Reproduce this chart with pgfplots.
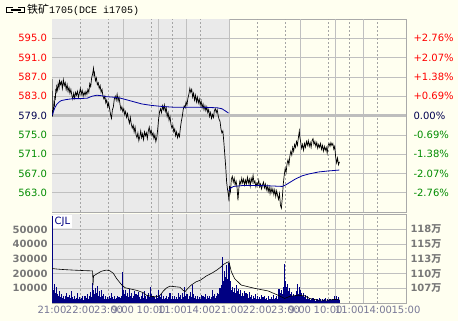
\documentclass[border=0pt]{standalone}
\usepackage{pgfplots}
\pgfplotsset{compat=1.18}
\usepackage{fontspec}
\setmainfont{DejaVu Sans}
\newfontfamily\cjk{Noto Sans CJK SC}
\newfontfamily\mono{Liberation Mono}
\definecolor{cream}{RGB}{255,255,240}
\definecolor{dgray}{RGB}{234,234,234}
\definecolor{gridc}{RGB}{192,192,192}
\definecolor{dashc}{RGB}{165,165,165}
\definecolor{midc}{RGB}{190,190,190}
\definecolor{framec}{RGB}{170,170,170}
\definecolor{pred}{RGB}{255,0,0}
\definecolor{pgreen}{RGB}{0,140,0}
\definecolor{pnavy}{RGB}{0,0,80}
\definecolor{avgc}{RGB}{0,0,160}
\definecolor{volc}{RGB}{0,0,130}
\definecolor{xlab}{RGB}{120,120,150}
\definecolor{vlab}{RGB}{120,120,120}
\newcommand{\lbl}{\fontsize{10}{12}\selectfont}
\begin{document}
\begin{tikzpicture}[x=1pt,y=1pt]
\fill[cream] (0,0) rectangle (458,321);
\useasboundingbox (0,0) rectangle (458,321);
% title
\draw[line width=1.3pt] (13,313.5) -- (6.5,313.5) -- (6.5,308.5) -- (13,308.5);
\draw[line width=1.3pt] (18,313.5) -- (24.5,313.5) -- (24.5,308.5) -- (18,308.5);
\draw[line width=1.3pt] (10.5,311) -- (21,311);
\node[anchor=west, inner sep=0pt] at (27,311) {{\cjk\fontsize{11}{12}\selectfont 铁矿}{\mono\fontsize{10}{12}\selectfont 1705(DCE i1705)}};

% ---------------- price panel
\begin{axis}[
  at={(52pt,109pt)}, anchor=south west, scale only axis,
  width=354pt, height=193pt,
  xmin=0, xmax=750, ymin=559, ymax=599,
  axis line style={draw=framec},
  xtick=\empty,
  ytick={563,567,571,575,579,583,587,591,595},
  yticklabels={\textcolor{pgreen}{563.0},\textcolor{pgreen}{567.0},\textcolor{pgreen}{571.0},\textcolor{pgreen}{575.0},\textcolor{pnavy}{579.0},\textcolor{pred}{583.0},\textcolor{pred}{587.0},\textcolor{pred}{591.0},\textcolor{pred}{595.0}},
  major tick length=0pt,
  yticklabel style={font=\lbl, xshift=-1.5pt},
  clip mode=individual,
]
\fill[dgray] (axis cs:0,559) rectangle (axis cs:375,599);
\pgfplotsinvokeforeach{563,567,571,575,583,587,591,595}{\draw[gridc] (axis cs:0,#1) -- (axis cs:750,#1);}
\pgfplotsinvokeforeach{60,120,210,255,315,435,495,585,630,690}{\draw[dashc, dash pattern=on 2pt off 2pt] (axis cs:#1,559) -- (axis cs:#1,599);}
\pgfplotsinvokeforeach{150,225,285,375,525,600,660}{\draw[gridc] (axis cs:#1,559) -- (axis cs:#1,599);}
\draw[midc, line width=3pt] (axis cs:0,579) -- (axis cs:750,579);

\addplot[black, line width=0.7pt, mark=none] table {
0 586.6
1 578.8
2 579.5
3 580.2
4 581.5
5 580.8
6 583.0
7 582.2
8 584.5
9 583.6
10 585.0
12 584.2
13 585.6
15 584.8
16 586.2
18 585.4
20 586.0
22 584.6
24 586.4
26 585.2
28 585.8
30 584.4
32 585.4
34 584.0
36 584.8
38 583.6
40 584.4
42 583.2
44 582.4
46 583.6
48 582.6
50 583.8
52 583.2
54 584.0
56 582.8
58 583.6
60 584.6
62 583.4
64 584.2
66 583.0
68 583.8
70 583.2
72 584.0
74 583.4
76 584.4
78 583.8
80 585.6
82 585.0
84 586.8
86 587.6
88 588.8
89 587.4
90 587.8
92 586.2
94 586.8
96 585.4
98 585.8
100 584.6
102 585.2
104 583.8
106 584.4
108 583.0
110 582.4
112 583.0
114 581.6
116 582.2
118 580.8
120 581.6
122 580.4
124 579.2
126 578.4
128 580.2
130 580.8
132 582.4
134 583.0
136 582.2
138 583.4
140 582.0
142 582.8
144 581.4
146 580.2
148 580.8
150 579.8
152 580.4
154 579.2
156 579.8
158 578.6
160 579.4
162 578.2
164 577.4
166 578.6
168 577.2
170 576.4
172 577.0
174 575.6
176 576.6
178 575.0
180 574.4
182 575.4
184 573.8
186 574.6
188 575.8
190 574.4
192 575.2
194 574.0
196 575.6
198 574.8
200 575.4
202 574.2
204 575.8
206 576.6
208 575.2
210 576.0
212 574.8
214 575.4
216 574.2
218 575.0
220 573.6
222 574.4
224 576.2
226 578.4
228 579.8
230 580.4
232 579.6
234 581.0
236 580.2
238 581.2
240 579.8
242 580.6
244 578.8
246 579.6
248 578.0
250 578.8
252 577.2
254 576.4
256 577.0
258 575.6
260 576.2
262 574.8
264 575.6
266 574.4
268 575.2
270 574.6
272 576.4
274 577.8
276 578.8
278 580.2
280 581.0
282 580.6
284 581.8
286 581.2
288 582.6
290 583.4
292 584.6
294 583.8
296 584.4
298 582.8
300 583.6
302 582.2
304 583.2
306 581.8
308 582.8
310 581.6
312 582.4
314 581.2
316 582.0
318 580.6
320 581.4
322 580.2
324 581.0
326 580.0
328 580.8
330 579.6
332 580.2
334 578.8
336 579.6
338 578.4
340 579.2
342 578.6
344 580.0
346 580.4
348 579.6
350 580.2
352 579.0
354 578.2
356 577.8
358 576.2
360 575.4
362 575.8
364 573.6
366 571.0
368 568.4
370 565.2
372 563.6
374 562.4
375 561.2
376 564.4
378 563.2
380 565.8
382 566.4
384 565.2
386 566.0
388 564.6
390 565.4
392 564.2
394 561.4
396 564.0
398 565.4
400 564.8
402 566.0
404 565.0
406 565.8
408 564.6
410 565.6
412 564.8
414 566.2
416 565.0
418 565.8
420 564.4
422 566.0
424 565.2
426 566.6
428 565.0
430 565.4
432 564.2
434 565.0
436 564.6
438 565.6
440 564.2
442 564.8
444 563.8
446 564.6
448 565.2
450 564.0
452 564.8
454 563.6
456 564.4
458 563.2
460 564.2
462 562.8
464 564.0
466 563.0
468 563.8
470 562.6
472 563.6
474 562.2
476 563.4
478 562.4
480 561.6
482 562.8
484 560.4
486 559.8
488 562.0
490 564.8
492 566.6
494 568.0
496 567.2
498 569.0
500 569.8
502 568.8
504 570.6
506 571.6
508 570.8
510 572.4
512 571.6
514 573.0
516 572.4
518 573.6
520 572.8
522 574.4
524 575.8
525 574.6
527 573.4
529 572.2
531 573.0
533 571.8
535 573.2
537 572.4
539 573.6
541 572.8
543 573.8
545 572.6
547 573.4
549 572.4
551 573.8
553 574.2
555 573.0
557 573.6
559 572.6
561 573.4
563 572.2
565 573.0
567 572.4
569 573.2
571 572.0
573 572.8
575 571.6
577 572.6
579 571.8
581 572.4
583 571.2
585 572.8
587 573.2
589 572.6
591 573.4
593 572.8
595 573.2
597 572.0
599 572.6
601 570.4
603 569.2
605 570.2
607 568.8
609 569.4
};
\addplot[avgc, line width=0.8pt, mark=none] table {
0 579.0
3 579.8
6 580.6
10 581.3
15 581.8
20 582.1
30 582.3
45 582.5
60 582.5
75 582.6
85 583.0
95 583.2
105 583.1
115 582.9
130 582.8
145 582.6
160 582.2
175 581.8
190 581.4
210 581.1
230 580.9
260 580.7
290 580.7
320 580.7
350 580.6
360 580.4
368 579.9
374 579.5
};
\addplot[avgc, line width=0.8pt, mark=none] table {
375 563.4
379 564.0
385 564.3
405 564.5
435 564.5
465 564.4
488 564.3
495 564.6
505 565.2
515 565.8
530 566.5
545 566.9
565 567.3
585 567.5
609 567.7
};
\node[anchor=west, xshift=4pt, text=pred, font=\lbl] at (axis cs:750,595) {+2.76\%};
\node[anchor=west, xshift=4pt, text=pred, font=\lbl] at (axis cs:750,591) {+2.07\%};
\node[anchor=west, xshift=4pt, text=pred, font=\lbl] at (axis cs:750,587) {+1.38\%};
\node[anchor=west, xshift=4pt, text=pred, font=\lbl] at (axis cs:750,583) {+0.69\%};
\node[anchor=west, xshift=4pt, text=pnavy, font=\lbl] at (axis cs:750,579) {0.00\%};
\node[anchor=west, xshift=4pt, text=pgreen, font=\lbl] at (axis cs:750,575) {-0.69\%};
\node[anchor=west, xshift=4pt, text=pgreen, font=\lbl] at (axis cs:750,571) {-1.38\%};
\node[anchor=west, xshift=4pt, text=pgreen, font=\lbl] at (axis cs:750,567) {-2.07\%};
\node[anchor=west, xshift=4pt, text=pgreen, font=\lbl] at (axis cs:750,563) {-2.76\%};
\end{axis}

% ---------------- volume panel
\begin{axis}[
  at={(52pt,18pt)}, anchor=south west, scale only axis,
  width=354pt, height=89pt,
  xmin=0, xmax=750, ymin=0, ymax=60500,
  axis line style={draw=framec},
  xtick={0,60,120,150,210,255,315,375,435,495,525,585,630,690,750},
  xticklabels={21:00,22:00,23:00,9:00,10:00,11:00,14:00,21:00,22:00,23:00,9:00,10:00,11:00,14:00,15:00},
  ytick={10000,20000,30000,40000,50000},
  yticklabels={10000,20000,30000,40000,50000},
  scaled y ticks=false,
  major tick length=0pt,
  yticklabel style={font=\bfseries\lbl, text=vlab, xshift=-1pt},
  xticklabel style={font=\lbl, text=xlab},
  clip mode=individual,
]
\fill[dgray] (axis cs:0,0) rectangle (axis cs:375,60500);
\pgfplotsinvokeforeach{10000,20000,30000,40000,50000}{\draw[gridc] (axis cs:0,#1) -- (axis cs:750,#1);}
\pgfplotsinvokeforeach{60,120,210,255,315,435,495,585,630,690}{\draw[dashc, dash pattern=on 2pt off 2pt] (axis cs:#1,0) -- (axis cs:#1,60500);}
\pgfplotsinvokeforeach{150,225,285,375,525,600,660}{\draw[gridc] (axis cs:#1,0) -- (axis cs:#1,60500);}
\addplot[ycomb, draw=volc, line width=1.1pt, mark=none] table {
0 59000
2 14000
4 9000
6 13000
8 7000
10 11000
12 6000
14 5000
16 8000
18 4000
20 6000
22 3500
24 5000
26 3000
28 4500
30 7000
32 3000
34 4000
36 2500
38 5500
40 3500
42 8000
44 4000
46 3000
48 5000
50 2500
52 3500
54 6500
56 3000
58 4000
60 2500
62 3500
64 5000
66 2000
68 3000
70 4500
72 2500
74 3500
76 6000
78 3000
80 5000
82 7500
84 4000
86 13500
88 9000
90 6000
92 10000
94 7000
96 11500
98 5000
100 8000
102 4000
104 9000
106 5000
108 3500
110 6000
112 3000
114 4500
116 2500
118 4000
120 3000
122 5000
124 3500
126 7000
128 4000
130 3000
132 4500
134 2500
136 3500
138 5000
140 3000
142 4000
144 2500
146 3500
148 5000
150 21000
152 9000
154 6000
156 8500
158 5000
160 7000
162 4000
164 9500
166 5000
168 6500
170 3500
172 5000
174 8000
176 4000
178 6000
180 3000
182 5500
184 7500
186 4000
188 3000
190 5000
192 6500
194 3500
196 8000
198 4500
200 3000
202 5000
204 7000
206 4000
208 11000
210 6000
212 3500
214 4500
216 2500
218 4000
220 3000
222 5500
224 3500
226 9000
228 5000
230 4000
232 6000
234 3000
236 4500
238 2500
240 3500
242 5000
244 2500
246 4000
248 3000
250 6500
252 3500
254 2500
256 4500
258 3000
260 5000
262 2500
264 4000
266 3000
268 7000
270 4000
272 5500
274 3000
276 6500
278 4000
280 11000
282 5000
284 3500
286 6000
288 4000
290 3000
292 5000
294 7500
296 4000
298 12500
300 6000
302 3500
304 5000
306 3000
308 4500
310 2500
312 4000
314 3000
316 5500
318 3000
320 4500
322 2500
324 4000
326 6000
328 3000
330 4500
332 3500
334 5000
336 3000
338 4000
340 9000
342 4500
344 6000
346 3500
348 5000
350 7000
352 6000
354 8500
356 10000
358 7500
360 12000
362 31000
364 15000
366 22000
368 18000
370 26000
372 16000
374 24000
375 27000
377 13000
379 15000
381 9000
383 11000
385 7500
387 10000
389 6500
391 12000
393 8000
395 9500
397 6000
399 8500
401 5000
403 7000
405 4500
407 8000
409 5000
411 6500
413 4000
415 6000
417 3500
419 7500
421 4000
423 5500
425 3000
427 5000
429 3500
431 6000
433 3000
435 4500
437 2500
439 4000
441 3000
443 5500
445 2500
447 4000
449 3000
451 5000
453 2500
455 3500
457 2000
459 4500
461 3000
463 2500
465 4000
467 3000
469 5500
471 2500
473 3500
475 4500
477 3000
479 6000
481 9800
483 5000
485 7000
487 9000
489 6000
491 11000
493 26800
495 15000
497 11000
499 13000
501 8000
503 10000
505 6000
507 7500
509 5000
511 6000
513 4500
515 5500
517 4000
519 8000
521 12800
523 6000
525 11000
527 9000
529 6500
531 5000
533 7000
535 4000
537 5500
539 3000
541 4500
543 2500
545 3500
547 2000
549 3000
551 2500
553 3500
555 2000
557 3000
559 1500
561 2500
563 3000
565 2000
567 3500
569 2500
571 1500
573 3000
575 2000
577 2500
579 3500
581 1500
583 2500
585 2000
587 3000
589 1500
591 2500
593 2000
595 3000
597 2500
599 4500
601 3000
603 5000
605 2500
607 4000
609 2000
};
\end{axis}

% ---------------- open interest (right scale)
\begin{axis}[
  at={(52pt,18pt)}, anchor=south west, scale only axis,
  width=354pt, height=89pt,
  xmin=0, xmax=750, ymin=104.25, ymax=120.89,
  axis line style={draw=none},
  xtick=\empty,
  ytick={107,109.75,112.5,115.25,118},
  yticklabels={107{\cjk 万},110{\cjk 万},113{\cjk 万},115{\cjk 万},118{\cjk 万}},
  yticklabel pos=right,
  major tick length=0pt,
  yticklabel style={font=\bfseries\lbl, text=vlab, xshift=1pt},
]
\addplot[black, line width=0.6pt, mark=none] table {
0 110.7
10 110.6
25 110.5
45 110.4
70 110.3
86 110.25
87 107.6
88 109.3
95 109.7
105 110.2
115 110.4
122 110.3
130 109.8
137 108.8
148 107.6
155 107.1
165 106.9
180 106.6
193 106.2
200 105.7
210 105.5
222 105.4
229 105.7
236 106.5
243 107.1
250 107.4
260 107.3
271 107.2
278 106.6
282 106.4
288 107.0
295 107.6
305 108.2
314 108.5
327 109.3
340 109.9
349 110.4
358 111.0
364 111.5
370 111.8
374 111.95
375 111.9
380 110.1
387 108.8
401 107.6
429 107.0
458 106.5
479 105.7
493 105.1
504 105.5
521 105.7
535 105.6
546 105.1
563 104.8
585 104.8
599 104.9
609 104.95
};
\end{axis}
\node[fill=white, inner sep=1.5pt, text=volc, font=\lbl, anchor=north west] at (53,106) {CJL};
\end{tikzpicture}
\end{document}
